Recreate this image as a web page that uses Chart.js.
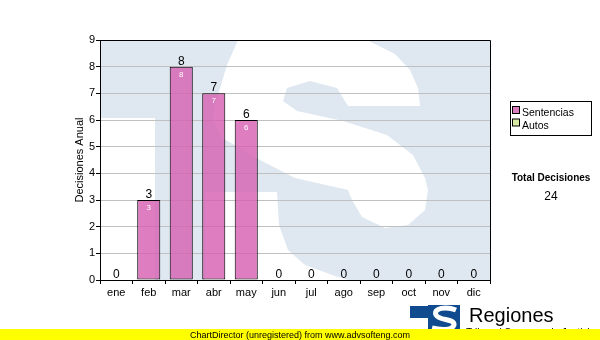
<!DOCTYPE html>
<html>
<head>
<meta charset="utf-8">
<script src="https://cdn.jsdelivr.net/npm/chart.js@4.4.1/dist/chart.umd.min.js"></script>
<style>
  html, body { margin: 0; padding: 0; background: #fff; }
  canvas { display: block; }
</style>
</head>
<body>
<canvas id="chart" width="600" height="340"></canvas>
<script>
const MONTHS = ['ene', 'feb', 'mar', 'abr', 'may', 'jun', 'jul', 'ago', 'sep', 'oct', 'nov', 'dic'];
const SENTENCIAS = [0, 3, 8, 7, 6, 0, 0, 0, 0, 0, 0, 0];
const AUTOS = [0, 0, 0, 0, 0, 0, 0, 0, 0, 0, 0, 0];
const Y_TICKS = [0, 1, 2, 3, 4, 5, 6, 7, 8, 9];
const Y_TITLE = 'Decisiones Anual';
const TOTAL_TITLE = 'Total Decisiones';
const FOOTER = 'ChartDirector (unregistered) from www.advsofteng.com';
const BRAND = 'Regiones';
const BRAND_SUB = 'Tribunal Supremo de Justicia';

const FONT = '"Liberation Sans", Arial, sans-serif';
const SERIES = [
  { label: 'Sentencias', data: SENTENCIAS, fill: 'rgba(214,94,178,0.8)', swatch: '#dc7cc0' },
  { label: 'Autos',      data: AUTOS,      fill: '#d8e9a4',               swatch: '#d8e9a4' },
];

// light blue "S" watermark behind the plot (outline in px relative to the plot corner)
const S_OUTLINE = [
  [143,-10],[245,-10],[275,4],[295,14],[310,30],[318,48],[320,66],[248,66],[237,48],[210,41],
  [187,48],[183,61],[197,71],[243,81],[287,95],[313,115],[325,138],[328,150],[325,170],[308,185],
  [285,188],[262,177],[252,160],[248,150],[235,147],[195,138],[160,120],[140,108],[122,98],
  [113,81],[115,65],[127,25],[138,0]
];
const S_TAIL = [[105,152],[177,152],[179,185],[188,210],[205,225],[235,236],[262,244],[105,244]];

const watermark = {
  id: 'watermark',
  beforeDraw(chart) {
    const { ctx, chartArea: a } = chart;
    ctx.save();
    ctx.beginPath();
    ctx.rect(a.left, a.top, a.right - a.left, a.bottom - a.top);
    ctx.clip();
    ctx.fillStyle = '#dfe8f1';
    ctx.fillRect(a.left, a.top, a.right - a.left, a.bottom - a.top);
    ctx.fillStyle = '#fff';
    ctx.fillRect(a.left, a.top + 78, 55, a.bottom - a.top);
    [S_OUTLINE, S_TAIL].forEach(poly => {
      ctx.beginPath();
      poly.forEach(([x, y], i) => {
        const px = a.left + x, py = a.top + y;
        i ? ctx.lineTo(px, py) : ctx.moveTo(px, py);
      });
      ctx.closePath();
      ctx.fill();
    });
    ctx.restore();
  }
};

const barLabels = {
  id: 'barLabels',
  afterDatasetsDraw(chart) {
    const { ctx, scales: { y } } = chart;
    const bars = chart.getDatasetMeta(0).data;
    ctx.save();
    ctx.textAlign = 'center';
    ctx.textBaseline = 'alphabetic';
    MONTHS.forEach((m, i) => {
      const total = SENTENCIAS[i] + AUTOS[i];
      const x = bars[i].x;
      const top = y.getPixelForValue(total);
      ctx.fillStyle = '#000';
      ctx.font = '12px ' + FONT;
      ctx.fillText(String(total), x, top - 2);
      if (SENTENCIAS[i] > 0) {
        ctx.fillStyle = '#fff';
        ctx.font = '8px ' + FONT;
        ctx.fillText(String(SENTENCIAS[i]), x, top + 10);
      }
    });
    ctx.restore();
  }
};

const extras = {
  id: 'extras',
  afterDraw(chart) {
    const { ctx, chartArea: a } = chart;
    ctx.save();
    // top and right frame of the plot
    ctx.strokeStyle = '#000';
    ctx.lineWidth = 1;
    ctx.beginPath();
    ctx.moveTo(a.left, a.top + 0.5);
    ctx.lineTo(a.right + 0.5, a.top + 0.5);
    ctx.lineTo(a.right + 0.5, a.bottom);
    ctx.stroke();

    // legend box
    ctx.fillStyle = '#fff';
    ctx.fillRect(510.5, 101.5, 81, 34);
    ctx.strokeRect(510.5, 101.5, 81, 34);
    ctx.font = '10.5px ' + FONT;
    ctx.textAlign = 'left';
    ctx.textBaseline = 'alphabetic';
    SERIES.forEach((s, i) => {
      const yy = 106.5 + i * 12.5;
      ctx.fillStyle = s.swatch;
      ctx.fillRect(512.5, yy, 7, 7);
      ctx.strokeRect(512.5, yy, 7, 7);
      ctx.fillStyle = '#000';
      ctx.fillText(s.label, 522, yy + 9.5);
    });

    // total
    const total = SENTENCIAS.concat(AUTOS).reduce((s, v) => s + v, 0);
    ctx.textAlign = 'center';
    ctx.font = 'bold 10px ' + FONT;
    ctx.fillText(TOTAL_TITLE, 551, 181);
    ctx.font = '12px ' + FONT;
    ctx.fillText(String(total), 551, 200);

    // brand logo
    ctx.fillStyle = '#0f4b8e';
    ctx.fillRect(410, 306, 20, 12);
    ctx.fillRect(428, 305, 32, 27);
    ctx.strokeStyle = '#fff';
    ctx.lineWidth = 5;
    ctx.beginPath();
    ctx.moveTo(456, 310);
    ctx.bezierCurveTo(446, 306, 433, 308, 436, 315);
    ctx.bezierCurveTo(439, 321, 455, 318, 454, 325);
    ctx.bezierCurveTo(452, 331, 440, 330, 432, 328);
    ctx.stroke();
    ctx.fillStyle = '#000';
    ctx.textAlign = 'left';
    ctx.font = '20px ' + FONT;
    ctx.fillText(BRAND, 469, 322);
    ctx.font = '10px ' + FONT;
    ctx.fillText(BRAND_SUB, 466, 336);

    // footer band
    ctx.fillStyle = '#ffff00';
    ctx.fillRect(0, 329, 600, 11);
    ctx.fillStyle = '#000';
    ctx.textAlign = 'center';
    ctx.font = '9px ' + FONT;
    ctx.fillText(FOOTER, 300, 338);
    ctx.restore();
  }
};

new Chart(document.getElementById('chart').getContext('2d'), {
  type: 'bar',
  data: {
    labels: MONTHS,
    datasets: SERIES.map(s => ({
      label: s.label,
      data: s.data,
      backgroundColor: s.fill,
      borderColor: '#000',
      borderWidth: s.label === 'Autos' ? 0 : 1,
      borderSkipped: false,
      categoryPercentage: 1,
      barPercentage: 0.71,
    }))
  },
  options: {
    responsive: false,
    animation: false,
    events: [],
    layout: { padding: { left: 0, right: 110, top: 40, bottom: 0 } },
    plugins: { legend: { display: false }, tooltip: { enabled: false } },
    scales: {
      x: {
        stacked: true,
        afterFit: s => { s.height = 60; },
        grid: { drawOnChartArea: false, tickLength: 4, tickColor: '#000' },
        border: { color: '#000', width: 1 },
        ticks: { color: '#000', padding: 2, font: { family: FONT, size: 11 } },
      },
      y: {
        stacked: true,
        min: 0, max: 9,
        afterFit: s => { s.width = 100; },
        afterBuildTicks: s => { s.ticks = Y_TICKS.map(v => ({ value: v })); },
        grid: { color: '#c0c0c0', tickColor: '#000', tickLength: 4 },
        border: { color: '#000', width: 1 },
        ticks: { color: '#000', padding: 1, font: { family: FONT, size: 11 } },
        title: {
          display: true, text: Y_TITLE, color: '#000',
          font: { family: FONT, size: 11 },
          padding: { top: 73, bottom: 0 },
        },
      }
    }
  },
  plugins: [watermark, barLabels, extras]
});
</script>
</body>
</html>
